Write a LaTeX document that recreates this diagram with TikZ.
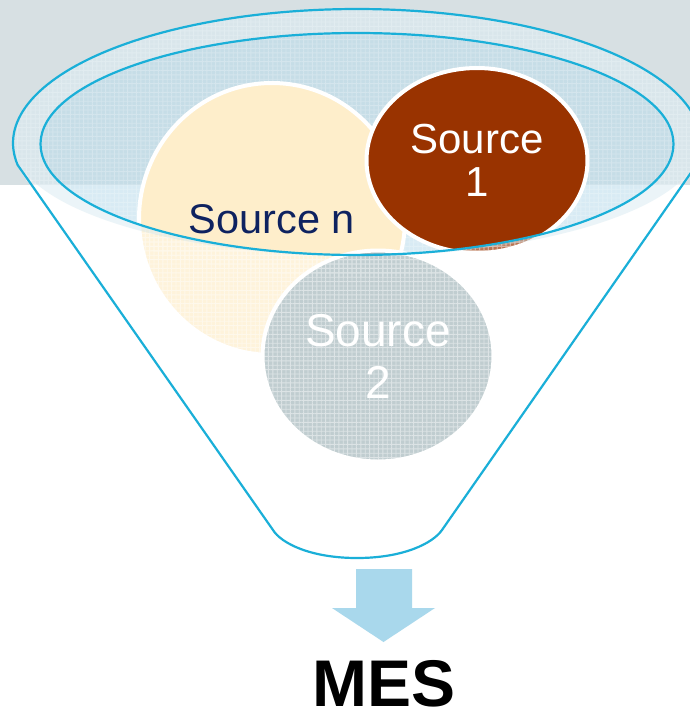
\documentclass[tikz,border=0pt]{standalone}
\usepackage{fontspec}
\setmainfont{Liberation Sans}
\usetikzlibrary{shapes.geometric, patterns.meta}
\definecolor{bggray}{HTML}{D7E0E3}
\definecolor{funnelblue}{HTML}{1AAFD8}
\definecolor{innerblue}{RGB}{185,220,235}
\definecolor{rimblue}{RGB}{200,225,235}
\definecolor{creamfill}{HTML}{FEEECB}
\definecolor{brownfill}{HTML}{993300}
\definecolor{grayfill}{HTML}{A3B6BA}
\definecolor{navytext}{HTML}{0E2260}
\definecolor{arrowblue}{HTML}{A9D8EC}
\begin{document}
\begin{tikzpicture}[x=1pt, y=-1pt,
  srcball/.style={ellipse, draw=white, line width=4pt, inner sep=0pt, align=center},
  funnelline/.style={draw=funnelblue, line width=2.2pt, line join=round},
  hatchh/.style={pattern={Lines[angle=0,distance=4.4pt,line width=0.9pt]}, pattern color=white},
  hatchv/.style={pattern={Lines[angle=90,distance=4.4pt,line width=0.9pt]}, pattern color=white},
]
\useasboundingbox (0,0) rectangle (690,713);
\fill[white] (0,0) rectangle (690,713);
\fill[bggray] (0,0) rectangle (690,185);

% inner ellipse (mouth of the funnel) fill
\fill[innerblue, opacity=0.55] (357,144) ellipse [x radius=316.5, y radius=111];
\begin{scope}[transparency group, opacity=0.25]
  \fill[hatchh] (357,144) ellipse [x radius=316.5, y radius=111];
  \fill[hatchv] (357,144) ellipse [x radius=316.5, y radius=111];
\end{scope}

% sources
\node[srcball, fill=creamfill, minimum width=266pt, minimum height=272pt,
      font=\fontsize{41.5}{44}\selectfont, text=navytext] (srcn) at (272,219) {Source n};
\node[srcball, fill=brownfill, minimum width=221pt, minimum height=185pt,
      font=\fontsize{42}{43}\selectfont, text=white] (src1) at (477,160.5) {Source\\1};
\node[srcball, fill=grayfill, minimum width=231pt, minimum height=211pt,
      font=\fontsize{46}{52}\selectfont, text=white] (src2) at (378,356) {Source\\2};

% funnel body overlay (outside the inner ellipse)
\begin{scope}[even odd rule]
  \clip (-20,-20) rectangle (720,740)
        (357,144) ellipse [x radius=316.5, y radius=111];
  \begin{scope}[transparency group, opacity=0.32]
    \fill[white] (357,143) ellipse [x radius=344, y radius=134];
    \fill[white] (17.7,165) -- (696.3,165) -- (442,530)
       .. controls (433,543) and (404,558) .. (357,558)
       .. controls (310,558) and (281,543) .. (273,530) -- cycle;
  \end{scope}
  \begin{scope}[transparency group, opacity=0.45]
    \fill[hatchh] (357,143) ellipse [x radius=344, y radius=134];
    \fill[hatchv] (357,143) ellipse [x radius=344, y radius=134];
    \fill[hatchh] (17.7,165) -- (696.3,165) -- (442,530)
       .. controls (433,543) and (404,558) .. (357,558)
       .. controls (310,558) and (281,543) .. (273,530) -- cycle;
    \fill[hatchv] (17.7,165) -- (696.3,165) -- (442,530)
       .. controls (433,543) and (404,558) .. (357,558)
       .. controls (310,558) and (281,543) .. (273,530) -- cycle;
  \end{scope}
  % rim of the funnel mouth: full height on top, shallow underneath
  \fill[rimblue, opacity=0.35]
     plot[domain=180:360, samples=80, smooth] ({357+344*cos(\x)}, {143+134*sin(\x)})
     -- plot[domain=0:180, samples=80, smooth] ({357+344*cos(\x)}, {143+113*sin(\x)}) -- cycle;
\end{scope}

% funnel outlines
\draw[funnelline] (357,144) ellipse [x radius=316.5, y radius=111];
\draw[funnelline] plot[domain=170.55:369.45, samples=120, smooth]
      ({357+344*cos(\x)}, {143+134*sin(\x)})
  -- (442,530) .. controls (433,543) and (404,558) .. (357,558)
  .. controls (310,558) and (281,543) .. (273,530) -- cycle;

% output arrow
\coordinate (tip) at (383.5,642);
\fill[arrowblue] (356,569) -- (412,569) -- (412,608) -- (435,608) -- (tip)
   -- (332,608) -- (356,608) -- cycle;

\node[font=\bfseries\fontsize{66}{66}\selectfont, anchor=base, inner sep=0pt] (mes) at (384,706) {MES};
\end{tikzpicture}
\end{document}
